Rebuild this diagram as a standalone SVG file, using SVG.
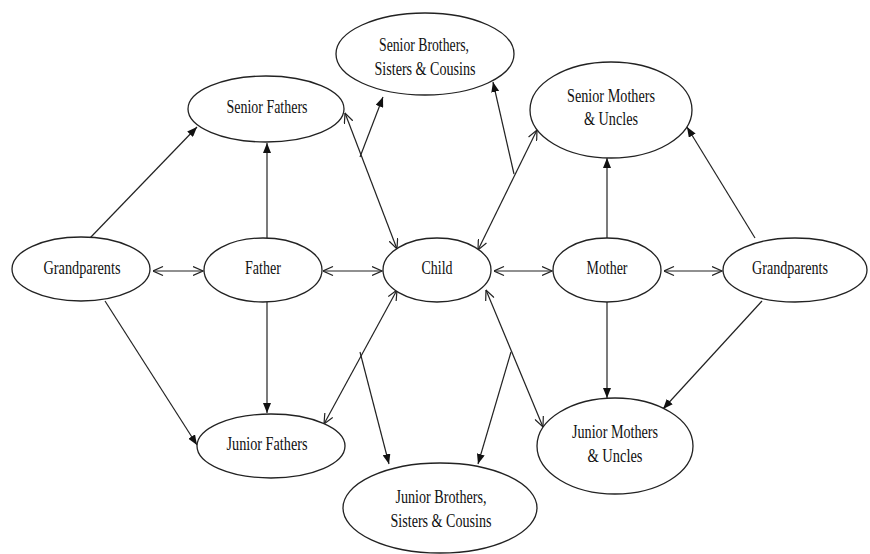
<svg xmlns="http://www.w3.org/2000/svg" width="870" height="554" viewBox="0 0 870 554">
<defs>
<style>
.n ellipse{fill:#fff;stroke:#222;stroke-width:1.3}
.n text{font-family:"Liberation Serif","Times New Roman",serif;font-size:19px;fill:#111;text-anchor:middle}
.c line{stroke:#222;stroke-width:1.2;fill:none}
.f{marker-end:url(#fa)}
.d{marker-start:url(#oa);marker-end:url(#oa)}
</style>
<marker id="fa" viewBox="0 0 10 8" refX="10" refY="4" markerWidth="10" markerHeight="8" orient="auto" markerUnits="userSpaceOnUse"><path d="M0,0 L10,4 L0,8 z" fill="#111"/></marker>
<marker id="oa" viewBox="0 0 11 10" refX="10.5" refY="5" markerWidth="11" markerHeight="10" orient="auto-start-reverse" markerUnits="userSpaceOnUse"><path d="M0.5,0.5 L10.5,5 L0.5,9.5" fill="none" stroke="#222" stroke-width="1.2"/></marker>
</defs>
<rect width="870" height="554" fill="#fff"/>
<g class="c" id="connectors">
<line class="d" x1="153" y1="271" x2="203" y2="271"/>
<line class="d" x1="323" y1="271" x2="382" y2="271"/>
<line class="d" x1="494" y1="271" x2="552" y2="271"/>
<line class="d" x1="664" y1="271" x2="722" y2="271"/>
<line class="f" x1="90" y1="238" x2="197" y2="127"/>
<line class="f" x1="105" y1="301" x2="197" y2="445"/>
<line class="f" x1="267" y1="238" x2="267" y2="143"/>
<line class="f" x1="267" y1="302" x2="267" y2="413"/>
<line class="f" x1="607" y1="238" x2="607" y2="158"/>
<line class="f" x1="607" y1="302" x2="607" y2="398"/>
<line class="f" x1="755" y1="238" x2="687" y2="127"/>
<line class="f" x1="762" y1="301" x2="663" y2="409"/>
<line class="d" x1="345" y1="113" x2="397" y2="249"/>
<line class="f" x1="360" y1="157" x2="383" y2="97"/>
<line class="d" x1="478" y1="250" x2="537" y2="130"/>
<line class="f" x1="514" y1="174" x2="493" y2="82"/>
<line class="d" x1="397" y1="290" x2="324" y2="424"/>
<line class="f" x1="360" y1="352" x2="389" y2="464"/>
<line class="d" x1="486" y1="290" x2="543" y2="427"/>
<line class="f" x1="511" y1="352" x2="478" y2="464"/>
</g>
<g class="n" id="grandparents-left"><ellipse cx="81" cy="269" rx="69" ry="32"/><text x="82" y="274" textLength="77" lengthAdjust="spacingAndGlyphs">Grandparents</text></g>
<g class="n" id="father"><ellipse cx="263" cy="270" rx="59" ry="32"/><text x="263" y="274" textLength="36" lengthAdjust="spacingAndGlyphs">Father</text></g>
<g class="n" id="child"><ellipse cx="437" cy="270" rx="54" ry="32"/><text x="437" y="274" textLength="31" lengthAdjust="spacingAndGlyphs">Child</text></g>
<g class="n" id="mother"><ellipse cx="607" cy="270" rx="54" ry="32"/><text x="607" y="274" textLength="41" lengthAdjust="spacingAndGlyphs">Mother</text></g>
<g class="n" id="grandparents-right"><ellipse cx="795" cy="270" rx="72" ry="32"/><text x="790" y="274" textLength="76" lengthAdjust="spacingAndGlyphs">Grandparents</text></g>
<g class="n" id="senior-fathers"><ellipse cx="266" cy="109" rx="78" ry="33"/><text x="267" y="113" textLength="81" lengthAdjust="spacingAndGlyphs">Senior Fathers</text></g>
<g class="n" id="senior-brothers"><ellipse cx="425" cy="54" rx="89" ry="41"/><text x="424" y="51" textLength="90" lengthAdjust="spacingAndGlyphs">Senior Brothers,</text><text x="425" y="75" textLength="101" lengthAdjust="spacingAndGlyphs">Sisters &amp; Cousins</text></g>
<g class="n" id="senior-mothers"><ellipse cx="611" cy="110" rx="81" ry="48"/><text x="611" y="102" textLength="88" lengthAdjust="spacingAndGlyphs">Senior Mothers</text><text x="611" y="125" textLength="54" lengthAdjust="spacingAndGlyphs">&amp; Uncles</text></g>
<g class="n" id="junior-fathers"><ellipse cx="271" cy="446" rx="74" ry="32"/><text x="267" y="450" textLength="81" lengthAdjust="spacingAndGlyphs">Junior Fathers</text></g>
<g class="n" id="junior-brothers"><ellipse cx="440" cy="508" rx="97" ry="45"/><text x="441" y="503" textLength="91" lengthAdjust="spacingAndGlyphs">Junior Brothers,</text><text x="441" y="527" textLength="101" lengthAdjust="spacingAndGlyphs">Sisters &amp; Cousins</text></g>
<g class="n" id="junior-mothers"><ellipse cx="615" cy="446" rx="78" ry="48"/><text x="615" y="438" textLength="86" lengthAdjust="spacingAndGlyphs">Junior Mothers</text><text x="615" y="462" textLength="55" lengthAdjust="spacingAndGlyphs">&amp; Uncles</text></g>
</svg>
